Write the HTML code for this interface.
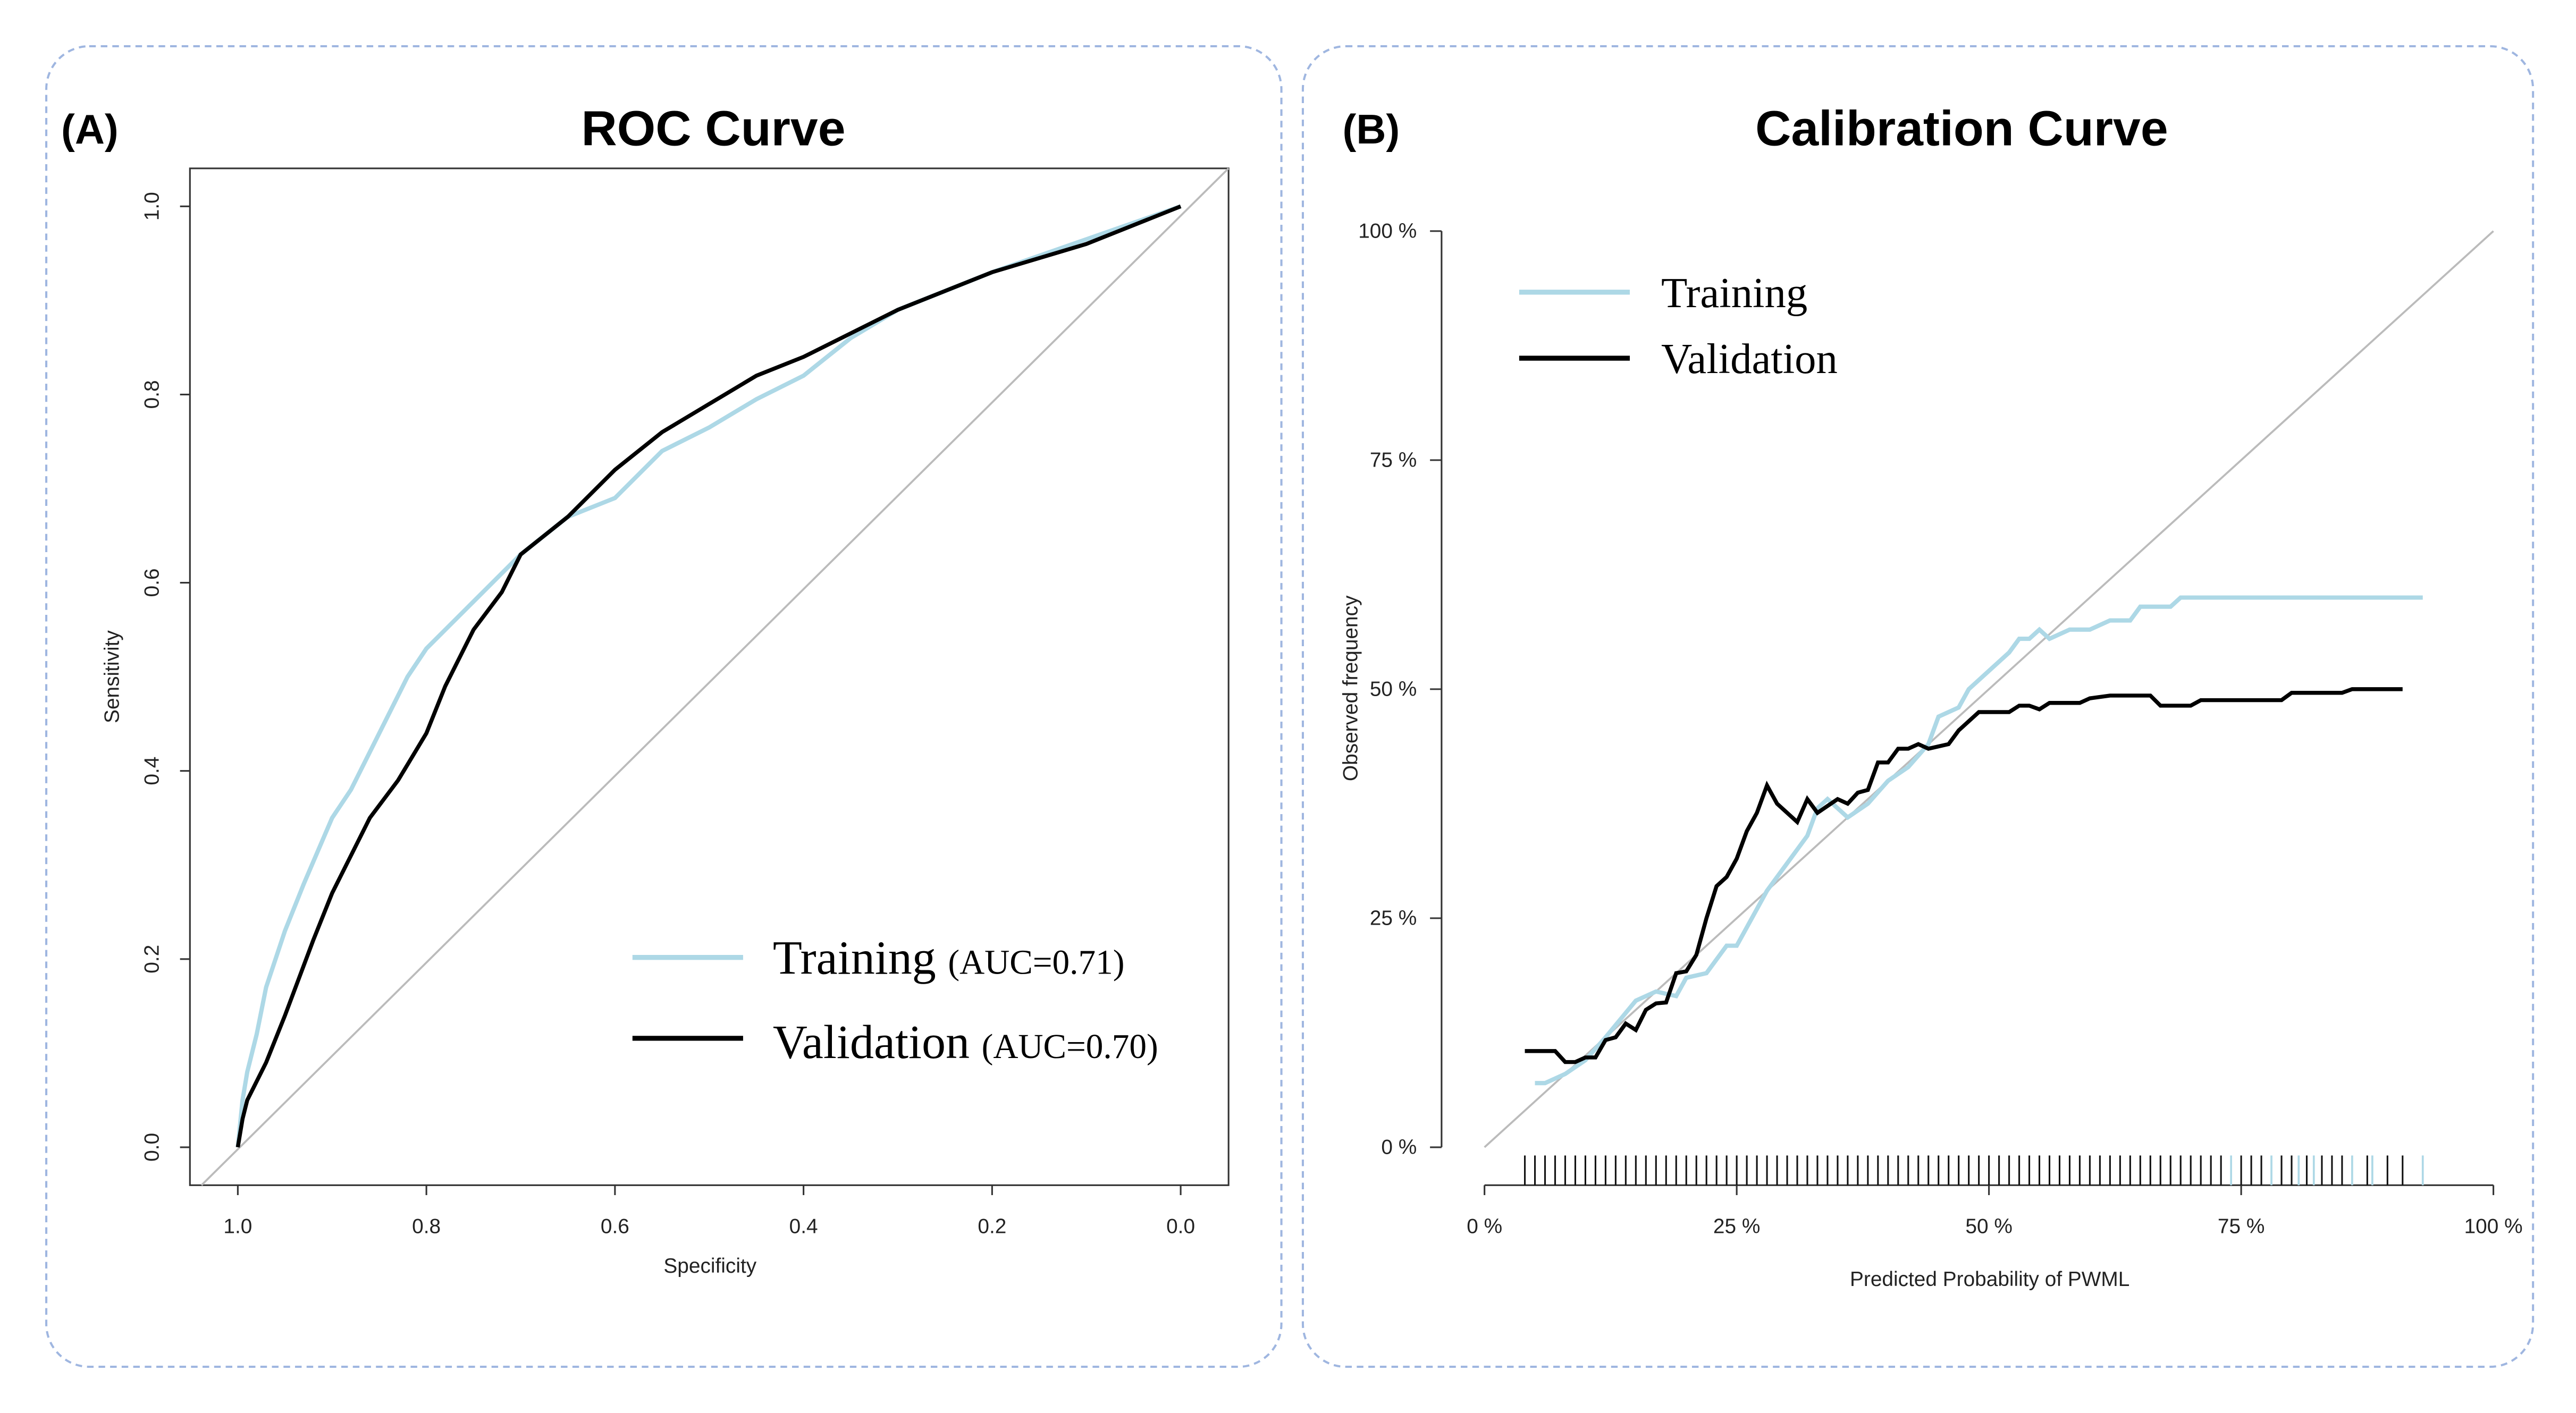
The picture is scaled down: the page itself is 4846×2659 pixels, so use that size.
<!DOCTYPE html>
<html><head><meta charset="utf-8"><style>
html,body{margin:0;padding:0;background:#fff;}
svg{display:block;}
text{font-family:"Liberation Sans",sans-serif;}
.serif{font-family:"Liberation Serif",serif;}
</style></head><body>
<svg id="fig" width="4846" height="2659" viewBox="0 0 1560 856" xmlns="http://www.w3.org/2000/svg">
<rect x="0" y="0" width="1560" height="856" fill="#fff"/>
<rect x="28" y="28" width="748" height="800" rx="26" fill="none" stroke="#9fb6e0" stroke-width="1.3" stroke-dasharray="4,3"/>
<rect x="789" y="28" width="745" height="800" rx="26" fill="none" stroke="#9fb6e0" stroke-width="1.3" stroke-dasharray="4,3"/>
<text x="37" y="87" font-size="25" font-weight="bold">(A)</text>
<text x="432" y="88" font-size="30" font-weight="bold" text-anchor="middle">ROC Curve</text>
<text x="813" y="87" font-size="25" font-weight="bold">(B)</text>
<text x="1188" y="88" font-size="30" font-weight="bold" text-anchor="middle">Calibration Curve</text>
<g id="roc"></g>
<g id="cal"></g>
</svg>
<script>
// ROC data (specificity, sensitivity)
const rocXTicks = [1.0, 0.8, 0.6, 0.4, 0.2, 0.0];
const rocYTicks = [0.0, 0.2, 0.4, 0.6, 0.8, 1.0];
const trainSpec = [1,0.995,0.99,0.98,0.97,0.95,0.93,0.90,0.88,0.85,0.82,0.80,0.78,0.74,0.70,0.65,0.60,0.55,0.50,0.45,0.40,0.35,0.30,0.20,0.10,0];
const trainSens = [0,0.05,0.08,0.12,0.17,0.23,0.28,0.35,0.38,0.44,0.50,0.53,0.55,0.59,0.63,0.67,0.69,0.74,0.765,0.795,0.82,0.86,0.89,0.93,0.965,1];
const validSpec = [1,0.995,0.99,0.97,0.95,0.92,0.90,0.88,0.86,0.83,0.80,0.78,0.75,0.72,0.70,0.65,0.60,0.55,0.50,0.45,0.40,0.35,0.30,0.20,0.10,0];
const validSens = [0,0.03,0.05,0.09,0.14,0.22,0.27,0.31,0.35,0.39,0.44,0.49,0.55,0.59,0.63,0.67,0.72,0.76,0.79,0.82,0.84,0.865,0.89,0.93,0.96,1];
// Calibration data (%)
const calXTicks = [0, 25, 50, 75, 100];
const calYTicks = [0, 25, 50, 75, 100];
const calTrainX = [5,6,8,10,12,15,17,19,20,22,24,25,27,28,30,32,33,34,35,36,38,40,42,44,45,47,48,50,52,53,54,55,56,58,60,62,64,65,68,69,72,80,90,93];
const calTrainY = [7,7,8,9.5,12,16,17,16.5,18.5,19,22,22,26,28,31,34,37,38,37,36,37.5,40,41.5,44,47,48,50,52,54,55.5,55.5,56.5,55.5,56.5,56.5,57.5,57.5,59,59,60,60,60,60,60];
const calValidX = [4,7,8,9,10,11,12,13,14,15,16,17,18,19,20,21,22,23,24,25,26,27,28,29,31,32,33,35,36,37,38,39,40,41,42,43,44,46,47,49,52,53,54,55,56,59,60,62,66,67,70,71,79,80,85,86,91];
const calValidY = [10.5,10.5,9.3,9.3,9.8,9.8,11.7,12,13.5,12.8,15,15.7,15.8,19,19.2,21,25,28.5,29.5,31.5,34.5,36.5,39.5,37.5,35.5,38,36.5,38,37.5,38.7,39,42,42,43.5,43.5,44,43.5,44,45.5,47.5,47.5,48.2,48.2,47.8,48.5,48.5,49,49.3,49.3,48.2,48.2,48.8,48.8,49.6,49.6,50,50];
const rugBlack = [4,5,6,7,8,9,10,11,12,13,14,15,16,17,18,19,20,21,22,23,24,25,26,27,28,29,30,31,32,33,34,35,36,37,38,39,40,41,42,43,44,45,46,47,48,49,50,51,52,53,54,55,56,57,58,59,60,61,62,63,64,65,66,67,68,69,70,71,72,73,75,76,77,79,80,81.5,83,84,85,87.5,89.5,91];
const rugBlue = [74,78,80.7,82.2,86,88,93];

const NS = "http://www.w3.org/2000/svg";
function mk(parent, tag, attrs, txt){const e=document.createElementNS(NS,tag);for(const k in attrs)e.setAttribute(k,attrs[k]);if(txt!==undefined)e.textContent=txt;parent.appendChild(e);return e;}

// ROC
const roc = document.getElementById('roc');
const rx = v => 144 + (1 - v) * (715 - 144);
const ry = v => 695 - v * (695 - 125);
let el;
el = mk(roc,'rect',{x:115,y:102,width:629,height:616,fill:'none',stroke:'#333','stroke-width':1});
 
el = mk(roc,'line',{x1:122,y1:718,x2:744,y2:102,stroke:'#bbb','stroke-width':1.2});
 
rocXTicks.forEach(t=>{
  el = mk(roc,'line',{x1:rx(t),y1:718,x2:rx(t),y2:724,stroke:'#333'});
   
  el = mk(roc,'text',{x:rx(t),y:747,'font-size':12.5,'text-anchor':'middle',fill:'#222'},t.toFixed(1));
   
});
rocYTicks.forEach(t=>{
  el = mk(roc,'line',{x1:109,y1:ry(t),x2:115,y2:ry(t),stroke:'#333'});
   
  el = mk(roc,'text',{x:0,y:0,'font-size':12.5,'text-anchor':'middle',fill:'#222',transform:`translate(96,${ry(t)}) rotate(-90)`},t.toFixed(1));
   
});
el = mk(roc,'text',{x:430,y:771,'font-size':12.5,'text-anchor':'middle',fill:'#222'},'Specificity');
 
el = mk(roc,'text',{x:0,y:0,'font-size':12.5,'text-anchor':'middle',fill:'#222',transform:'translate(72,410) rotate(-90)'},'Sensitivity');
 
el = mk(roc,'polyline',{points:trainSpec.map((s,i)=>rx(s)+','+ry(trainSens[i])).join(' '),fill:'none',stroke:'#add8e6','stroke-width':2.6});
 
el = mk(roc,'polyline',{points:validSpec.map((s,i)=>rx(s)+','+ry(validSens[i])).join(' '),fill:'none',stroke:'#000','stroke-width':2.4});
 
el = mk(roc,'line',{x1:383,y1:580,x2:450,y2:580,stroke:'#add8e6','stroke-width':3});
 
el = mk(roc,'text',{x:468,y:590,'font-size':29,class:'serif'},'');
 
el.innerHTML = 'Training <tspan font-size="21">(AUC=0.71)</tspan>';
el = mk(roc,'line',{x1:383,y1:629,x2:450,y2:629,stroke:'#000','stroke-width':3});
 
el = mk(roc,'text',{x:468,y:641,'font-size':29,class:'serif'},'');
 
el.innerHTML = 'Validation <tspan font-size="21">(AUC=0.70)</tspan>';

// Calibration
const cal = document.getElementById('cal');
const cx = v => 899 + v / 100 * (1510 - 899);
const cy = v => 695 - v / 100 * (695 - 140);
el = mk(cal,'line',{x1:873,y1:cy(0),x2:873,y2:cy(100),stroke:'#333'});
 
el = mk(cal,'line',{x1:cx(0),y1:718,x2:cx(100),y2:718,stroke:'#333'});
 
el = mk(cal,'line',{x1:cx(0),y1:cy(0),x2:cx(100),y2:cy(100),stroke:'#bbb','stroke-width':1.2});
 
calXTicks.forEach(t=>{
  el = mk(cal,'line',{x1:cx(t),y1:718,x2:cx(t),y2:724,stroke:'#333'});
   
  el = mk(cal,'text',{x:cx(t),y:747,'font-size':12.5,'text-anchor':'middle',fill:'#222'},t+' %');
   
});
calYTicks.forEach(t=>{
  el = mk(cal,'line',{x1:866,y1:cy(t),x2:873,y2:cy(t),stroke:'#333'});
   
  el = mk(cal,'text',{x:858,y:cy(t)+4,'font-size':12.5,'text-anchor':'end',fill:'#222'},t+' %');
   
});
el = mk(cal,'text',{x:1205,y:779,'font-size':12.5,'text-anchor':'middle',fill:'#222'},'Predicted Probability of PWML');
 
el = mk(cal,'text',{x:0,y:0,'font-size':12.5,'text-anchor':'middle',fill:'#222',transform:'translate(822,417) rotate(-90)'},'Observed frequency');
 
rugBlack.forEach(v=>{
  el = mk(cal,'line',{x1:cx(v),y1:700,x2:cx(v),y2:718,stroke:'#111','stroke-width':1});
   
});
rugBlue.forEach(v=>{
  el = mk(cal,'line',{x1:cx(v),y1:700,x2:cx(v),y2:718,stroke:'#add8e6','stroke-width':1.2});
   
});
el = mk(cal,'polyline',{points:calTrainX.map((x,i)=>cx(x)+','+cy(calTrainY[i])).join(' '),fill:'none',stroke:'#add8e6','stroke-width':2.6});
 
el = mk(cal,'polyline',{points:calValidX.map((x,i)=>cx(x)+','+cy(calValidY[i])).join(' '),fill:'none',stroke:'#000','stroke-width':2.4});
 
el = mk(cal,'line',{x1:920,y1:177,x2:987,y2:177,stroke:'#add8e6','stroke-width':3});
 
el = mk(cal,'text',{x:1006,y:186,'font-size':26,class:'serif'},'Training');
 
el = mk(cal,'line',{x1:920,y1:217,x2:987,y2:217,stroke:'#000','stroke-width':3});
 
el = mk(cal,'text',{x:1006,y:226,'font-size':26,class:'serif'},'Validation');
 
</script>
</body></html>
